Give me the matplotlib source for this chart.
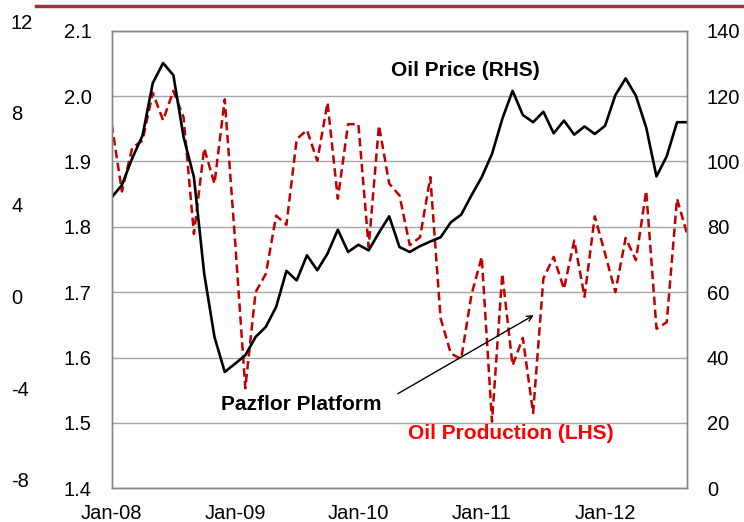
import matplotlib.pyplot as plt
import matplotlib.lines as mlines
import numpy as np

plt.rcParams['font.family'] = ['Liberation Sans', 'DejaVu Sans']

# monthly data, Jan-08 .. Sep-12
tick_pos = [0, 12, 24, 36, 48]
tick_labels = ['Jan-08', 'Jan-09', 'Jan-10', 'Jan-11', 'Jan-12']

# Oil production (LHS)
oil_prod = [1.957, 1.854, 1.921, 1.932, 2.005, 1.963, 2.008, 1.967, 1.789, 1.920,
            1.866, 1.995, 1.780, 1.553, 1.700, 1.728, 1.817, 1.803, 1.934, 1.948,
            1.901, 1.990, 1.843, 1.957, 1.957, 1.769, 1.955, 1.866, 1.848, 1.772,
            1.784, 1.876, 1.660, 1.606, 1.598, 1.696, 1.754, 1.502, 1.728, 1.588,
            1.630, 1.515, 1.721, 1.754, 1.705, 1.779, 1.693, 1.816, 1.759, 1.700,
            1.783, 1.749, 1.855, 1.644, 1.654, 1.843, 1.788]

# Oil price (RHS)
oil_price = [89.0, 92.8, 101.0, 107.9, 124.0, 130.1, 126.4, 107.4, 95.2, 65.7,
             46.3, 35.6, 38.1, 40.7, 46.3, 49.4, 55.5, 66.5, 63.6, 71.3,
             66.7, 71.8, 79.1, 72.3, 74.5, 72.8, 78.2, 83.2, 73.8, 72.3,
             74.1, 75.5, 76.8, 81.4, 83.7, 89.6, 95.2, 102.3, 113.0, 121.6,
             114.2, 112.0, 115.2, 108.6, 112.5, 108.2, 110.7, 108.4, 110.9, 120.3,
             125.4, 120.1, 110.4, 95.4, 101.6, 112.0, 112.0]

outer_labels = ['12', '8', '4', '0', '-4', '-8']

x = np.arange(len(oil_price))

fig = plt.figure(figsize=(7.44, 5.22), dpi=100)
ax = fig.add_axes([0.1501, 0.0646, 0.7737, 0.8766])
ax2 = ax.twinx()

ax.plot(x, oil_prod, color='#C00000', linewidth=1.8, linestyle=(0, (3.4, 1.8)))
ax2.plot(x, oil_price, color='black', linewidth=1.9)

ax.set_xlim(0, len(x) - 1)
ax.set_ylim(1.4, 2.1)
ax.set_yticks(np.arange(1.4, 2.11, 0.1))
ax.set_yticklabels([f'{v:.1f}' for v in np.arange(1.4, 2.11, 0.1)])
ax2.set_ylim(0, 140)
ax2.set_yticks(range(0, 141, 20))
ax.set_xticks(tick_pos)
ax.set_xticklabels(tick_labels)

ax.grid(axis='y', color='#A6A6A6', linewidth=1.0)
ax.set_axisbelow(True)
for a in (ax, ax2):
    for s in a.spines.values():
        s.set_color('#868686')
        s.set_linewidth(1.0)
ax.tick_params(axis='y', length=0, pad=14.5, labelsize=14.5)
ax.tick_params(axis='x', length=0, pad=11, labelsize=14.5)
ax2.tick_params(axis='y', length=0, pad=14, labelsize=14.5)

# labels inside the plot
ax2.text(34.4, 127.7, 'Oil Price (RHS)', fontsize=15, fontweight='bold',
         ha='center', va='center')
ax2.text(18.4, 25.7, 'Pazflor Platform', fontsize=15, fontweight='bold',
         ha='center', va='center')
ax2.text(38.8, 16.9, 'Oil Production (LHS)', fontsize=15, fontweight='bold',
         color='#FF0000', ha='center', va='center')
ax2.annotate('', xy=(41.3, 53.4), xytext=(27.6, 28.5),
             arrowprops=dict(arrowstyle='->', color='black', lw=1.0))

# leftover scale at the far left
for i, lab in enumerate(outer_labels):
    fig.text(11 / 744, 1 - (23.3 + i * 91.7) / 522, lab, fontsize=14.5,
             ha='left', va='center')

# header rule at the top
fig.add_artist(mlines.Line2D([36 / 744, 1], [1 - 6 / 522, 1 - 6 / 522],
                             color='#953735', linewidth=2.5))

plt.savefig('out.png', dpi=100)
